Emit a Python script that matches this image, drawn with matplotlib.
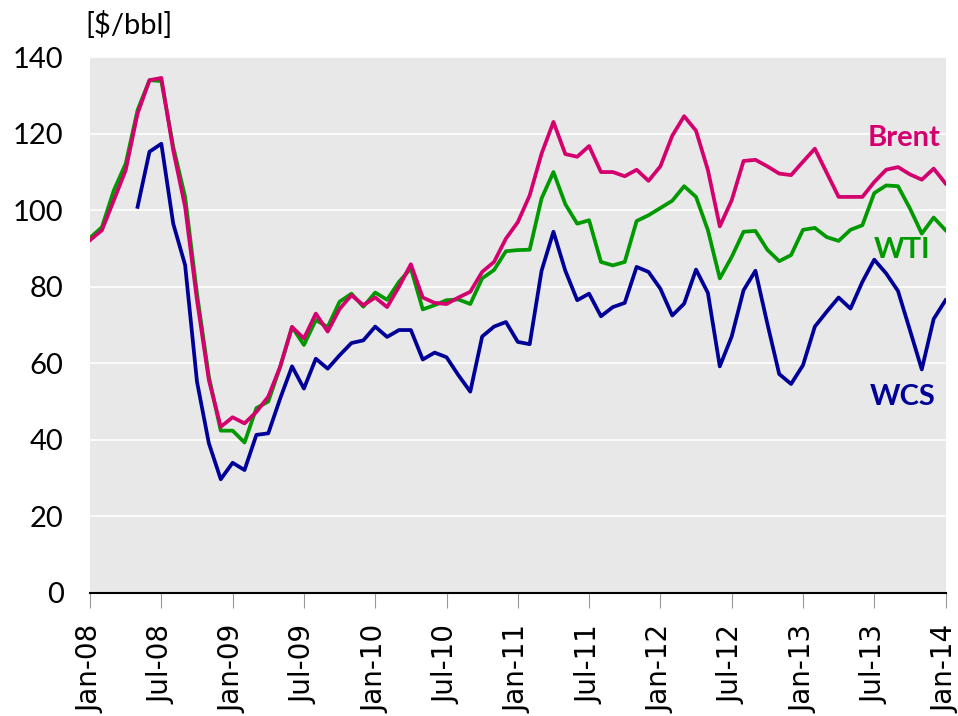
import matplotlib
matplotlib.use("Agg")
import matplotlib.pyplot as plt

# monthly prices, Jan-08 .. Jan-14 ($/bbl)
brent = [92.2, 94.8, 102.6, 110.5, 125.3, 134.0, 134.6, 115.7, 100.9, 76.5,
         55.6, 43.4, 45.9, 44.3, 47.3, 51.3, 59.1, 69.5, 66.5, 73.0,
         68.3, 74.2, 77.8, 75.2, 77.2, 74.7, 80.0, 85.9, 77.2, 75.8,
         75.5, 77.2, 78.7, 83.9, 86.5, 92.6, 96.9, 103.9, 114.8, 123.1,
         114.7, 114.0, 116.8, 110.0, 110.0, 108.9, 110.6, 107.7, 111.5, 119.5,
         124.6, 120.8, 110.5, 95.8, 102.6, 112.9, 113.2, 111.5, 109.6, 109.2,
         112.7, 116.1, 109.8, 103.5, 103.5, 103.5, 107.4, 110.6, 111.3, 109.4,
         108.0, 110.9, 107.0]
wti = [92.8, 95.6, 105.2, 112.2, 126.2, 134.0, 133.8, 116.6, 103.5, 78.2,
       56.5, 42.4, 42.4, 39.3, 48.3, 50.0, 59.1, 69.5, 64.8, 71.3,
       69.5, 76.1, 78.2, 74.8, 78.5, 76.6, 81.3, 84.8, 74.1, 75.2,
       76.5, 76.7, 75.5, 82.2, 84.4, 89.3, 89.6, 89.7, 103.1, 110.0,
       101.6, 96.5, 97.4, 86.5, 85.6, 86.5, 97.2, 98.7, 100.6, 102.5,
       106.3, 103.5, 94.8, 82.2, 87.8, 94.4, 94.6, 89.7, 86.7, 88.3,
       94.9, 95.4, 93.0, 92.0, 94.9, 96.1, 104.5, 106.5, 106.3, 100.5,
       93.9, 98.1, 94.8]
wcs = [None, None, None, None, 100.9, 115.3, 117.4, 96.5, 85.7, 55.2,
       39.1, 29.7, 34.0, 32.1, 41.3, 41.7, 50.8, 59.2, 53.4, 61.2,
       58.6, 62.1, 65.3, 66.0, 69.6, 66.9, 68.7, 68.7, 61.0, 62.8,
       61.6, 56.9, 52.6, 67.0, 69.6, 70.8, 65.6, 65.0, 84.2, 94.4,
       84.2, 76.5, 78.2, 72.3, 74.7, 75.8, 85.2, 83.9, 79.5, 72.5,
       75.6, 84.5, 78.4, 59.2, 67.0, 79.1, 84.2, 70.4, 57.2, 54.6,
       59.5, 69.6, 73.5, 77.2, 74.3, 81.3, 87.1, 83.5, 78.9, 68.7,
       58.4, 71.6, 76.5]
tick_labels = ["Jan-08", "Jul-08", "Jan-09", "Jul-09", "Jan-10", "Jul-10", "Jan-11",
               "Jul-11", "Jan-12", "Jul-12", "Jan-13", "Jul-13", "Jan-14"]

months = list(range(len(brent)))
wcs_x = [m for m, v in zip(months, wcs) if v is not None]
wcs_y = [v for v in wcs if v is not None]

fig = plt.figure(figsize=(9.58, 7.16), dpi=100)
ax = fig.add_axes([0.094, 0.172, 0.893, 0.748])
ax.set_facecolor("#e8e8e8")

ax.plot(months, wti, color="#009900", linewidth=2.7)
ax.plot(months, brent, color="#d4006e", linewidth=2.7)
ax.plot(wcs_x, wcs_y, color="#000099", linewidth=2.7)

ax.set_xlim(0, 72)
ax.set_ylim(0, 140)
ax.set_yticks(range(0, 141, 20))
ax.yaxis.grid(True, color="white", linewidth=1.2)
ax.set_axisbelow(True)
ax.set_xticks(range(0, 73, 6))
ax.set_xticklabels(tick_labels, rotation=90, fontsize=20, family="DejaVu Sans")
for lab in ax.get_yticklabels():
    lab.set_family("Lato")
    lab.set_fontsize(21)
ax.tick_params(axis="y", length=0, pad=19)
ax.tick_params(axis="x", length=11, color="#999999", pad=12)
for s in ["top", "right", "left"]:
    ax.spines[s].set_visible(False)
ax.spines["bottom"].set_color("black")
ax.spines["bottom"].set_linewidth(1.5)

ax.text(71.6, 118.8, "Brent", color="#d4006e", fontsize=21, fontweight="bold",
        family="Lato", ha="right", va="center")
ax.text(70.7, 89.6, "WTI", color="#009900", fontsize=21, fontweight="bold",
        family="Lato", ha="right", va="center")
ax.text(71.2, 51.2, "WCS", color="#000099", fontsize=21, fontweight="bold",
        family="Lato", ha="right", va="center")

fig.text(0.089, 0.965, "[$/bbl]", fontsize=21, family="Lato", ha="left", va="center")

fig.savefig("out.png", dpi=100)
